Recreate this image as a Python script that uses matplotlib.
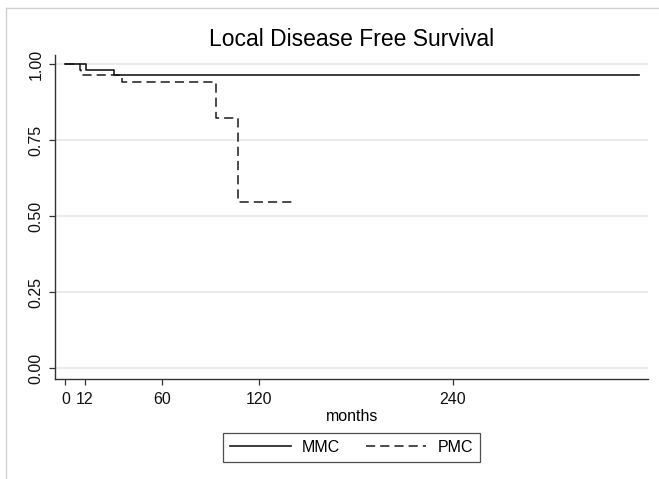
import matplotlib

matplotlib.use("Agg")
import matplotlib.pyplot as plt
from matplotlib.lines import Line2D

plt.rcParams["font.family"] = ["Liberation Sans", "DejaVu Sans"]

# Kaplan-Meier steps (months, survival)
mmc_months = [0, 13, 30, 355]
mmc_surv = [1.0, 0.983, 0.966, 0.966]

pmc_months = [0, 9, 10, 35, 93, 107, 143]
pmc_surv = [1.0, 0.983, 0.966, 0.941, 0.824, 0.549, 0.549]

x_ticks = [0, 12, 60, 120, 240]
y_ticks = [0.0, 0.25, 0.5, 0.75, 1.0]
y_labels = ["0.00", "0.25", "0.50", "0.75", "1.00"]

W, H = 659, 479
fig = plt.figure(figsize=(W / 100, H / 100), dpi=100)

left, right, bottom, top = 55, 648.3, 378.7, 55
ax = fig.add_axes([left / W, (H - bottom) / H, (right - left) / W, (bottom - top) / H])

ax.step(mmc_months, mmc_surv, where="post", color="#1a1a1a", lw=1.2, label="MMC")
ax.step(pmc_months, pmc_surv, where="post", color="#1a1a1a", lw=1.1,
        dashes=(6.0, 3.3), label="PMC")

ax.set_xlim(-6.4, 361)
ax.set_ylim(-0.034, 1.031)
ax.set_xticks(x_ticks)
ax.set_yticks(y_ticks)
ax.set_yticklabels(y_labels, rotation=90, va="center")
ax.grid(True, axis="y", color="#e8e8e8", lw=1.2)
ax.set_axisbelow(True)

for side in ("top", "right"):
    ax.spines[side].set_visible(False)
for side in ("left", "bottom"):
    ax.spines[side].set_color("#333333")
    ax.spines[side].set_linewidth(1.0)

ax.tick_params(axis="both", colors="#333333", labelcolor="#111111",
               labelsize=11.5, length=4.3, width=0.9)
ax.tick_params(axis="y", pad=4)
ax.tick_params(axis="x", pad=5.5)

ax.set_xlabel("months", fontsize=11.5, labelpad=1)
fig.text(352 / W, 1 - 39 / H, "Local Disease Free Survival",
         fontsize=16.5, ha="center", va="center")

handles = [
    Line2D([], [], color="#1a1a1a", lw=1.2),
    Line2D([], [], color="#1a1a1a", lw=1.1, dashes=(6.0, 3.3)),
]
leg = fig.legend(handles, ["MMC", "PMC"], loc="center",
                 bbox_to_anchor=(351.5 / W, 1 - 447.5 / H), ncol=2,
                 fontsize=11.5, frameon=True, fancybox=False,
                 handlelength=3.8, handletextpad=0.7, columnspacing=1.6,
                 borderpad=0.45, borderaxespad=0)
leg.get_frame().set_edgecolor("#222222")
leg.get_frame().set_linewidth(0.9)

# partial graph-region frame (left and top edges)
fig.add_artist(Line2D([5.7 / W, 5.7 / W], [0, 1 - 8 / H], color="#d0d0d0", lw=1.0))
fig.add_artist(Line2D([5.7 / W, 1], [1 - 8 / H, 1 - 8 / H], color="#d0d0d0", lw=1.0))

fig.savefig("out.png", dpi=100)
